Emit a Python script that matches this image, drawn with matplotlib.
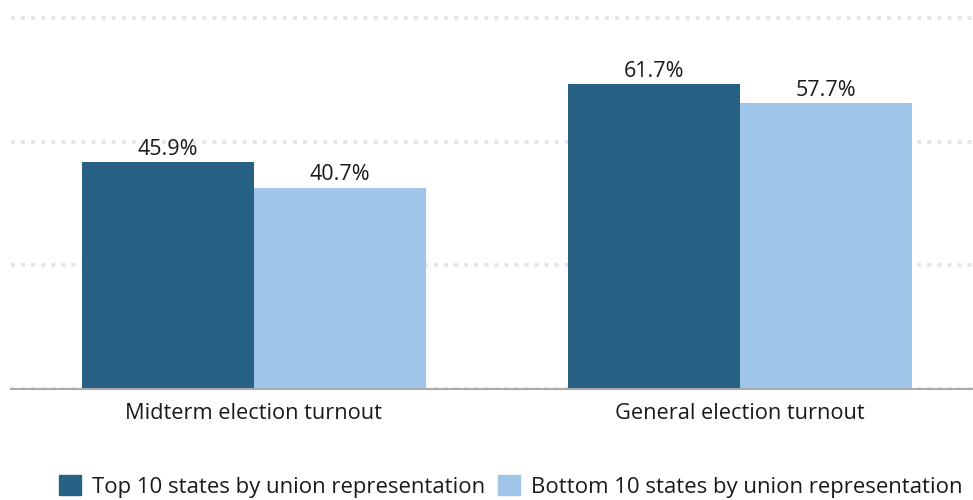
import matplotlib
matplotlib.use("Agg")
import matplotlib.pyplot as plt
import numpy as np
from matplotlib.patches import Rectangle

categories = ["Midterm election turnout", "General election turnout"]
series_names = ["Top 10 states by union representation", "Bottom 10 states by union representation"]
top10 = [45.9, 61.7]
bottom10 = [40.7, 57.7]
yticks = [0, 25, 50, 75]

colors = ["#276284", "#9fc5e8"]

plt.rcParams['font.family'] = ['Open Sans', 'DejaVu Sans']

fig = plt.figure(figsize=(9.73, 5.0), dpi=100)
ax = fig.add_axes([11/973, 1 - 389/500, 1 - 11/973, 389/500])

x = np.arange(len(categories))
w = 0.354
b1 = ax.bar(x - w/2, top10, w, color=colors[0], zorder=3)
b2 = ax.bar(x + w/2, bottom10, w, color=colors[1], zorder=3)

for bars, vals in ((b1, top10), (b2, bottom10)):
    for r, v in zip(bars, vals):
        ax.annotate(f"{v}%", (r.get_x() + r.get_width()/2, v), xytext=(0, 1.5),
                    textcoords="offset points", ha="center", va="bottom",
                    fontsize=15.5, color="#1a1a1a", zorder=4)

ax.set_xlim(-0.5, 1.48)
ax.set_ylim(0, 78.6)
ax.set_yticks(yticks)
ax.set_yticklabels([])
ax.tick_params(axis='y', length=0)
ax.yaxis.grid(True, color="#e6e6e6", linestyle=(0, (1, 1.5)), linewidth=2.9, zorder=0)
ax.set_xticks(x)
ax.set_xticklabels(categories, fontsize=15.7, color="#1a1a1a")
ax.tick_params(axis='x', length=0, pad=10)
for s in ["top", "right", "left"]:
    ax.spines[s].set_visible(False)
ax.spines["bottom"].set_color("#aaaaaa")
ax.spines["bottom"].set_linewidth(1.5)
ax.spines["bottom"].set_zorder(5)

handles = [Rectangle((0, 0), 1, 1, color=c) for c in colors]
fig.legend(handles, series_names, loc="lower center", bbox_to_anchor=(0.525, -0.035),
           ncol=2, frameon=False, fontsize=15.9, handlelength=1.0, handleheight=1.0,
           handletextpad=0.5, columnspacing=0.6, labelcolor="#1a1a1a")

fig.savefig("out.png", dpi=100)
